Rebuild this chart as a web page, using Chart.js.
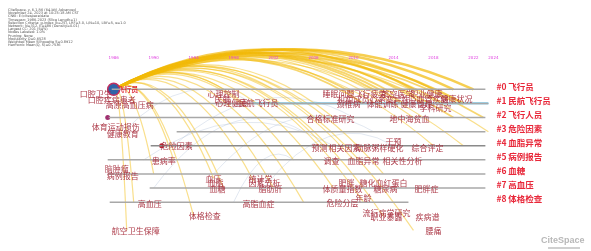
<!DOCTYPE html>
<html>
<head>
<meta charset="utf-8">
<script src="https://cdn.jsdelivr.net/npm/chart.js@4.4.0/dist/chart.umd.min.js"></script>
<style>
  html, body { margin: 0; padding: 0; background: #fff; }
  #wrap { width: 591px; height: 251px; }
</style>
</head>
<body>
<div id="wrap"><canvas id="timeline"></canvas></div>
<script>
// clusters (one horizontal timeline per cluster)
const clusterNames = ['#0 飞行员', '#1 民航飞行员', '#2 飞行人员', '#3 危险因素', '#4 血脂异常',
                      '#5 病例报告', '#6 血糖', '#7 高血压', '#8 体格检查'];
const clusterStart = [1985.8, 1989.3, 1985.5, 1992.3, 1989.7, 1985.4, 1985.4, 1989.6, 1985.6];
const clusterEnd   = [2023.2, 2023.5, 2023.2, 2023.2, 2023.2, 2023.2, 2023.2, 2023.2, 2015.5];
const highlightStart = 1999.9; // blue part of cluster #1
const tickYears = [1986, 1990, 1994, 1998, 2002, 2006, 2010, 2014, 2018, 2022, 2024];

// keyword labels: text, year, row (row = cluster index, fractional = offset)
const keywords = ['口腔卫生', '口腔疾病患者', '高原高血压病', '心理控制', '民航', '心理健康', '民航飞行员',
  '睡眠问题', '飞行疲劳', '航空医学', '职业健康', '机组成员', '心率变异性', '心血管疾病', '健康状况',
  '颈椎病', '体能训练', '健康管理', '学科研究', '合格标准研究', '地中海贫血', '体育运动损伤', '健康教育',
  '危险因素', '患病率', '脑肿瘤', '病例报告', '血压', '血脂', '血糖', '统计学', '因素分析', '脂肪肝',
  '高血压', '高脂血症', '体格检查', '航空卫生保障', '干预', '预测', '相关因素', '动脉粥样硬化', '综合评定',
  '调查', '血脂异常', '相关性分析', '肥胖', '糖化血红蛋白', '体质量指数', '糖尿病', '肥胖症', '年龄',
  '危险分层', '流行病学研究', '职业暴露', '疾病谱', '腰痛'];
const kwYears = [1984.2, 1985.8, 1987.6, 1997.0, 1996.9, 1997.8, 2000.5,
  2008.5, 2011.7, 2014.4, 2017.3, 2010.0, 2013.6, 2017.5, 2020.3,
  2009.5, 2012.9, 2016.3, 2018.2, 2007.7, 2015.6, 1986.2, 1986.9,
  1992.3, 1991.0, 1986.3, 1986.9, 1996.0, 1996.2, 1996.4, 2000.7, 2001.1, 2001.7,
  1989.6, 2000.5, 1995.1, 1988.2, 2014.0, 2006.6, 2009.1, 2012.6, 2017.4,
  2007.8, 2011.0, 2014.9, 2009.3, 2013.0, 2008.9, 2013.2, 2017.3, 2011.0,
  2008.9, 2013.3, 2013.3, 2017.4, 2018.0];
const kwRows = [0.33, 0.73, 1.13, 0.33, 0.67, 1.0, 1.0,
  0.33, 0.33, 0.33, 0.33, 0.67, 0.67, 0.67, 0.67,
  1.07, 1.07, 1.07, 1.33, 2.07, 2.13, 2.67, 3.13,
  4.0, 5.07, 5.67, 6.13, 6.33, 6.67, 7.07, 6.33, 6.67, 7.07,
  8.13, 8.13, 9.0, 10.07, 3.73, 4.13, 4.13, 4.13, 4.13,
  5.07, 5.07, 5.07, 6.67, 6.67, 7.07, 7.07, 7.07, 7.67,
  8.07, 8.73, 9.07, 9.07, 10.07];

// main node and its co-occurrence links
const rootYear = 1986, rootRow = 0;
const linkYears = [2022, 2020, 2018, 2016, 2014, 2012, 2010, 2021, 2019, 2017, 2015, 2013, 2011,
  2023, 2016, 2008, 2005, 2002, 1999, 1997, 2023.5, 2021, 2018, 2020,
  1987.3, 1988, 1990, 1992, 1996, 1997, 2000, 2002, 2005, 2008, 2011, 2013, 2016, 1994, 2004, 2007, 2010, 2013];
const linkRows = [0, 0, 0, 0, 0.3, 0, 0.3, 1, 1, 1, 1, 1, 1,
  2, 2, 2, 1, 0, 1, 0, 3, 4, 4, 2,
  10, 8, 6, 5, 6.3, 7, 6.5, 7, 8, 7, 8, 9, 10, 9, 5, 4, 5, 6];
const linkWeights = [3, 3, 2, 3, 2, 2, 2, 3, 2, 2, 2, 1, 2,
  2, 1, 1, 1, 1, 1, 1, 1, 1, 1, 2,
  1, 1, 1, 1, 1, 1, 1, 1, 1, 1, 1, 1, 1, 1, 1, 1, 1, 1];

// weaker links between other nodes
const faintFromYears = [1990, 1989, 1992, 1996, 1998, 1987, 2001];
const faintFromRows  = [7, 5, 4, 6, 8, 3, 7];
const faintToYears   = [2005, 2008, 2010, 2012, 2004, 2000, 2014];
const faintToRows    = [3, 4, 2, 3, 5, 1, 4];

const headerLines = [
  'CiteSpace, v. 6.1.R6 (64-bit) Advanced',
  'November 24, 2023 at 10:25:18 AM CST',
  'CNKI: E:\\citespace\\data',
  'Timespan: 1986-2023 (Slice Length=1)',
  'Selection Criteria: g-index (k=25), LRF=3.0, L/N=10, LBY=5, e=1.0',
  'Network: N=312, E=486 (Density=0.01)',
  'Largest CC: 201 (64%)',
  'Nodes Labeled: 1.0%',
  'Pruning: None',
  'Modularity Q=0.6528',
  'Weighted Mean Silhouette S=0.8912',
  'Harmonic Mean(Q, S)=0.7536'
];

function drawArc(ctx, x1, y1, x2, y2) {
  const dx = Math.abs(x2 - x1);
  const rise = Math.min(36, dx * 0.12) + 4;
  ctx.beginPath();
  ctx.moveTo(x1, y1);
  ctx.quadraticCurveTo((x1 + x2) / 2, Math.min(y1, y2) - 2 * rise, x2, y2);
  ctx.stroke();
}

const timelinePlugin = {
  id: 'timeline',
  beforeDatasetsDraw(chart) {
    const { ctx, scales: { x, y } } = chart;
    ctx.save();
    ctx.strokeStyle = 'rgba(150,170,205,0.35)';
    ctx.lineWidth = 0.8;
    faintFromYears.forEach((yr, i) => {
      drawArc(ctx, x.getPixelForValue(yr), y.getPixelForValue(faintFromRows[i]),
        x.getPixelForValue(faintToYears[i]), y.getPixelForValue(faintToRows[i]));
    });
    const rx = x.getPixelForValue(rootYear), ry = y.getPixelForValue(rootRow);
    linkYears.forEach((yr, i) => {
      ctx.strokeStyle = 'rgba(242,186,10,' + (0.35 + 0.12 * linkWeights[i]) + ')';
      ctx.lineWidth = 0.6 + 0.6 * linkWeights[i];
      drawArc(ctx, rx, ry, x.getPixelForValue(yr), y.getPixelForValue(linkRows[i]));
    });
    ctx.restore();
  },
  afterDatasetsDraw(chart) {
    const { ctx, scales: { x, y } } = chart;
    ctx.save();
    ctx.textBaseline = 'middle';
    // keyword labels
    ctx.textAlign = 'center';
    ctx.font = '8px "Noto Sans CJK SC"';
    ctx.fillStyle = 'rgba(165,40,55,0.9)';
    keywords.forEach((w, i) => {
      ctx.fillText(w, x.getPixelForValue(kwYears[i]), y.getPixelForValue(kwRows[i]));
    });
    // root label
    ctx.fillStyle = '#e0303c';
    ctx.font = 'bold 7px "Noto Sans CJK SC"';
    ctx.fillText('飞行员', x.getPixelForValue(rootYear + 1.4), y.getPixelForValue(rootRow));
    // cluster labels on the right
    ctx.textAlign = 'left';
    ctx.font = 'bold 8.5px "Noto Sans CJK SC"';
    ctx.fillStyle = '#e8283a';
    clusterNames.forEach((n, i) => {
      ctx.fillText(n, x.getPixelForValue(2024.3), y.getPixelForValue(i) - 3);
    });
    // year labels on top
    ctx.textAlign = 'center';
    ctx.font = '4px "DejaVu Sans"';
    ctx.fillStyle = '#e040e0';
    tickYears.forEach(t => {
      ctx.fillText(String(t), x.getPixelForValue(t), y.getPixelForValue(-2.2));
    });
    // header text
    ctx.textAlign = 'left';
    ctx.font = '3.5px "DejaVu Sans"';
    ctx.fillStyle = '#555';
    headerLines.forEach((l, i) => ctx.fillText(l, 8, 10 + i * 3.2));
    // watermark
    ctx.font = 'bold 9px "Liberation Sans"';
    ctx.fillStyle = '#b8b8b8';
    ctx.fillText('CiteSpace', 541, 241);
    ctx.fillStyle = '#d0d0d0';
    ctx.fillRect(548, 247, 32, 2);
    ctx.restore();
  }
};

const lineSets = clusterNames.map((n, i) => ({
  type: 'line',
  data: [{ x: clusterStart[i], y: i }, { x: clusterEnd[i], y: i }],
  borderColor: i === 4 ? '#8a8a8a' : '#a8a8a8',
  borderWidth: 1.5,
  pointRadius: 0
}));
lineSets.push({
  type: 'line',
  data: [{ x: highlightStart, y: 1 }, { x: clusterEnd[1], y: 1 }],
  borderColor: '#3ab4e6',
  borderWidth: 1.6,
  pointRadius: 0
});

new Chart('timeline', {
  type: 'scatter',
  data: {
    datasets: lineSets.concat([
      {
        data: [{ x: rootYear, y: rootRow }],
        pointRadius: 6,
        backgroundColor: '#2f63a8',
        borderColor: '#c03060',
        borderWidth: 1.5
      },
      {
        data: [{ x: 1985.4, y: 2 }, { x: 1990.8, y: 4 }],
        pointRadius: 2.5,
        backgroundColor: ['#a03070', '#c02030'],
        borderWidth: 0
      }
    ])
  },
  options: {
    responsive: true,
    maintainAspectRatio: false,
    animation: false,
    layout: { padding: 0 },
    plugins: { legend: { display: false }, tooltip: { enabled: false } },
    scales: {
      x: { type: 'linear', display: false, min: 1975.37, max: 2033.02 },
      y: { type: 'linear', display: false, min: -5.8, max: 10.93, reverse: true }
    }
  },
  plugins: [timelinePlugin]
});
</script>
</body>
</html>
